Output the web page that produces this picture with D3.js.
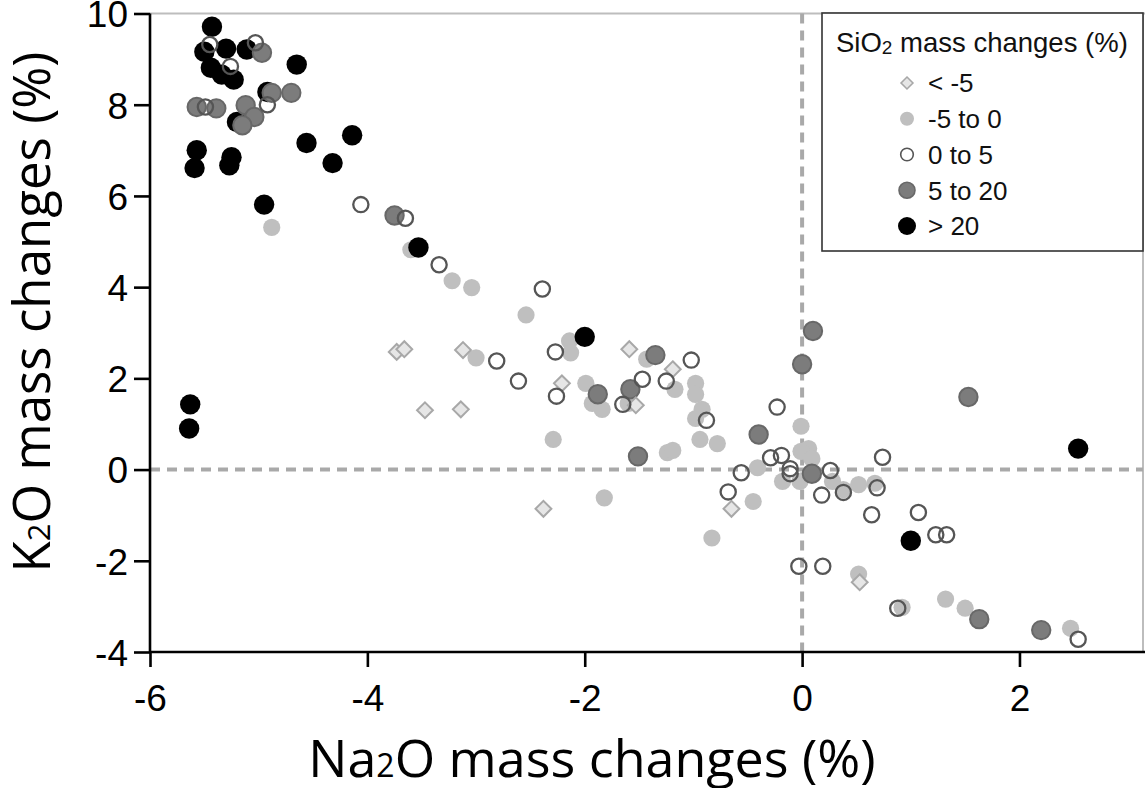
<!DOCTYPE html>
<html>
<head>
<meta charset="utf-8">
<script src="https://cdn.jsdelivr.net/npm/d3@7"></script>
<style>
  html, body { margin: 0; padding: 0; background: #fff; }
  svg { display: block; }
</style>
</head>
<body>
<svg id="chart" width="1145" height="788"></svg>
<script>
// Na2O vs K2O mass changes, grouped by SiO2 mass change class
const xTicks = [-6, -4, -2, 0, 2];
const yTicks = [-4, -2, 0, 2, 4, 6, 8, 10];

const classLabels = ["< -5", "-5 to 0", "0 to 5", "5 to 20", "> 20"];

// [Na2O, K2O] pairs for each SiO2 class
const siLtMinus5 = [
  [-3.73, 2.58], [-3.66, 2.64], [-3.12, 2.62], [-3.47, 1.30], [-3.14, 1.32],
  [-1.59, 2.64], [-1.19, 2.20], [-2.21, 1.89], [-1.53, 1.41], [-2.38, -0.86],
  [-0.65, -0.86], [0.53, -2.47]
];

const siMinus5To0 = [
  [-4.88, 5.31], [-3.60, 4.82], [-3.22, 4.14], [-3.04, 3.99], [-3.00, 2.45],
  [-2.54, 3.39], [-2.14, 2.82], [-2.13, 2.56], [-2.29, 0.66], [-1.99, 1.89],
  [-1.93, 1.45], [-1.84, 1.32], [-1.82, -0.62], [-1.43, 2.42], [-1.60, 1.45],
  [-1.17, 1.76], [-1.24, 0.37], [-1.19, 0.42], [-0.98, 1.89], [-0.98, 1.65],
  [-0.92, 1.32], [-0.98, 1.12], [-0.94, 0.66], [-0.78, 0.57], [-0.41, 0.04],
  [-0.45, -0.70], [-0.83, -1.50], [-0.01, 0.95], [0.06, 0.46], [-0.01, 0.40],
  [0.09, 0.24], [-0.18, -0.26], [-0.02, -0.26], [0.28, -0.26], [0.38, -0.44],
  [0.52, -0.33], [0.67, -0.30], [0.52, -2.29], [0.92, -3.02], [1.32, -2.84],
  [1.50, -3.04], [2.47, -3.48]
];

const si0To5 = [
  [-5.45, 9.32], [-5.03, 9.36], [-5.26, 8.84], [-5.49, 7.95], [-4.92, 8.00],
  [-4.06, 5.81], [-3.65, 5.51], [-3.34, 4.49], [-2.81, 2.38], [-2.39, 3.96],
  [-2.61, 1.94], [-2.27, 2.58], [-2.26, 1.61], [-1.65, 1.43], [-1.47, 1.98],
  [-1.25, 1.94], [-1.02, 2.40], [-0.88, 1.08], [-0.23, 1.37], [-0.29, 0.26],
  [-0.19, 0.31], [-0.11, 0.02], [-0.11, -0.09], [-0.56, -0.07], [-0.68, -0.49],
  [0.26, -0.02], [0.18, -0.56], [0.38, -0.50], [0.69, -0.40], [0.74, 0.27],
  [0.64, -0.99], [1.07, -0.94], [-0.03, -2.12], [0.19, -2.12], [0.88, -3.04],
  [1.23, -1.43], [1.33, -1.43], [2.54, -3.72]
];

const si5To20 = [
  [-4.97, 9.14], [-5.57, 7.95], [-5.39, 7.92], [-5.12, 7.99], [-4.88, 8.26],
  [-4.70, 8.26], [-5.04, 7.73], [-5.15, 7.55], [-3.75, 5.57], [-1.35, 2.51],
  [-1.88, 1.65], [-1.58, 1.76], [-1.51, 0.29], [-0.40, 0.77], [0.10, 3.04],
  [0.00, 2.31], [0.09, -0.09], [1.53, 1.59], [1.63, -3.28], [2.20, -3.52]
];

const siGt20 = [
  [-5.43, 9.71], [-5.50, 9.16], [-5.30, 9.23], [-5.11, 9.21], [-5.44, 8.81],
  [-5.34, 8.66], [-5.23, 8.55], [-4.65, 8.88], [-4.92, 8.28], [-5.20, 7.62],
  [-5.57, 7.00], [-5.59, 6.61], [-5.25, 6.85], [-5.27, 6.67], [-4.56, 7.16],
  [-4.14, 7.33], [-4.32, 6.72], [-4.95, 5.81], [-3.53, 4.87], [-2.00, 2.91],
  [-5.63, 1.43], [-5.64, 0.90], [1.00, -1.56], [2.54, 0.46]
];

const svg = d3.select("#chart");
const plot = { left: 150, right: 1143, top: 13.5, bottom: 652 };

const x = d3.scaleLinear().domain([-6, 3.155]).range([plot.left, 1145]);
const y = d3.scaleLinear().domain([-4, 10]).range([plot.bottom, plot.top]);

// light frame on top and right
svg.append("line")
  .attr("x1", plot.left).attr("x2", 1145)
  .attr("y1", plot.top).attr("y2", plot.top)
  .attr("stroke", "#bdbdbd").attr("stroke-width", 2);
svg.append("line")
  .attr("x1", plot.right).attr("x2", plot.right)
  .attr("y1", plot.top).attr("y2", plot.bottom)
  .attr("stroke", "#bdbdbd").attr("stroke-width", 2);

// zero reference lines
const refStyle = sel => sel.attr("stroke", "#a9a9a9").attr("stroke-width", 4)
  .attr("stroke-dasharray", "10,7");
svg.append("line")
  .attr("x1", plot.left).attr("x2", plot.right)
  .attr("y1", y(0)).attr("y2", y(0)).call(refStyle);
svg.append("line")
  .attr("x1", x(0)).attr("x2", x(0))
  .attr("y1", plot.top).attr("y2", plot.bottom).call(refStyle);

// markers
const g = svg.append("g");

g.selectAll("circle.lg").data(siMinus5To0).join("circle")
  .attr("class", "lg")
  .attr("cx", d => x(d[0])).attr("cy", d => y(d[1])).attr("r", 8.6)
  .attr("fill", "#bfbfbf");

g.selectAll("circle.bk").data(siGt20).join("circle")
  .attr("class", "bk")
  .attr("cx", d => x(d[0])).attr("cy", d => y(d[1])).attr("r", 10.2)
  .attr("fill", "#000");

g.selectAll("circle.dg").data(si5To20).join("circle")
  .attr("class", "dg")
  .attr("cx", d => x(d[0])).attr("cy", d => y(d[1])).attr("r", 9.2)
  .attr("fill", "#7c7c7c").attr("stroke", "#686868").attr("stroke-width", 2);

const diamond = d3.symbol().type(d3.symbolDiamond2);
g.selectAll("path.dm").data(siLtMinus5).join("path")
  .attr("class", "dm")
  .attr("transform", d => `translate(${x(d[0])},${y(d[1])})`)
  .attr("d", diamond.size(160)())
  .attr("fill", "#e6e6e6").attr("stroke", "#a8a8a8").attr("stroke-width", 2);

g.selectAll("circle.op").data(si0To5).join("circle")
  .attr("class", "op")
  .attr("cx", d => x(d[0])).attr("cy", d => y(d[1])).attr("r", 7.6)
  .attr("fill", "none").attr("stroke", "#555").attr("stroke-width", 2.3);

// axes
const font = "'Liberation Sans', Arial, sans-serif";
const plainNum = d => String(d);
const xAxis = svg.append("g")
  .attr("transform", `translate(0,${plot.bottom})`)
  .call(d3.axisBottom(x).tickValues(xTicks).tickSize(15).tickPadding(18).tickFormat(plainNum));
const yAxis = svg.append("g")
  .attr("transform", `translate(${plot.left},0)`)
  .call(d3.axisLeft(y).tickValues(yTicks).tickSize(16).tickPadding(6).tickFormat(plainNum));

[xAxis, yAxis].forEach(a => {
  a.select(".domain").attr("stroke", "#000").attr("stroke-width", 2.6);
  a.selectAll(".tick line").attr("stroke", "#000").attr("stroke-width", 2.6);
  a.selectAll(".tick text").attr("fill", "#000")
    .style("font-family", font).style("font-size", "37px");
});
xAxis.select(".domain").attr("d", `M${plot.left},0H1145`);
yAxis.select(".domain").attr("d", `M0,${plot.bottom}V${plot.top}`);
yAxis.selectAll(".tick text").attr("dy", "0.36em");

// axis titles
const titleFont = "'Open Sans', 'Noto Sans', sans-serif";
const xt = svg.append("text")
  .attr("x", 592).attr("y", 777)
  .attr("text-anchor", "middle")
  .style("font-family", titleFont).style("font-size", "52px").attr("fill", "#000");
xt.append("tspan").text("Na");
xt.append("tspan").text("2").style("font-size", "32px");
xt.append("tspan").text("O mass changes (%)");

const yt = svg.append("text")
  .attr("transform", "translate(50,312) rotate(-90)")
  .attr("text-anchor", "middle")
  .style("font-family", titleFont).style("font-size", "51px").attr("fill", "#000");
yt.append("tspan").text("K");
yt.append("tspan").text("2").style("font-size", "31px");
yt.append("tspan").text("O mass changes (%)");

// legend
const lg = svg.append("g");
lg.append("rect")
  .attr("x", 822).attr("y", 13).attr("width", 321).attr("height", 238)
  .attr("fill", "#fff").attr("stroke", "#333").attr("stroke-width", 1.6);

const lt = lg.append("text")
  .attr("x", 836).attr("y", 52)
  .style("font-family", font).style("font-size", "27.5px").attr("fill", "#111");
lt.append("tspan").text("SiO");
lt.append("tspan").text("2").style("font-size", "19px").attr("dy", 2);
lt.append("tspan").text(" mass changes (%)").attr("dy", -2);

const rowY = d3.scalePoint().domain(classLabels).range([83, 226]);
const symX = 907;

classLabels.forEach(label => {
  const cy = rowY(label);
  if (label === classLabels[0]) {
    lg.append("path")
      .attr("transform", `translate(${symX},${cy})`)
      .attr("d", d3.symbol().type(d3.symbolDiamond2).size(90)())
      .attr("fill", "#e6e6e6").attr("stroke", "#a8a8a8").attr("stroke-width", 1.6);
  } else if (label === classLabels[1]) {
    lg.append("circle").attr("cx", symX).attr("cy", cy).attr("r", 7).attr("fill", "#bfbfbf");
  } else if (label === classLabels[2]) {
    lg.append("circle").attr("cx", symX).attr("cy", cy).attr("r", 6.3)
      .attr("fill", "#fff").attr("stroke", "#555").attr("stroke-width", 1.6);
  } else if (label === classLabels[3]) {
    lg.append("circle").attr("cx", symX).attr("cy", cy).attr("r", 8)
      .attr("fill", "#7c7c7c").attr("stroke", "#686868").attr("stroke-width", 1.6);
  } else {
    lg.append("circle").attr("cx", symX).attr("cy", cy).attr("r", 9).attr("fill", "#000");
  }
  lg.append("text")
    .attr("x", 928).attr("y", cy).attr("dy", "0.36em")
    .style("font-family", font).style("font-size", "26px").attr("fill", "#111")
    .text(label);
});
</script>
</body>
</html>
